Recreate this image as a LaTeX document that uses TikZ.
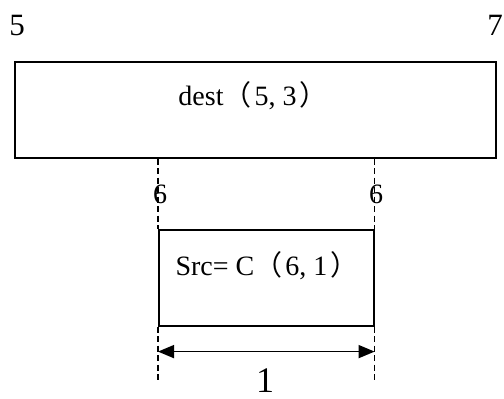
\documentclass[tikz,border=0pt]{standalone}
\usepackage{fontspec}
\setmainfont{Liberation Serif}
\newfontfamily\cjk{Noto Sans CJK SC}
\usetikzlibrary{arrows.meta}
\tikzset{
  box/.style={draw, line width=1.6pt, rectangle, inner sep=0pt, anchor=north west},
  guide/.style={line width=1.4pt, dash pattern=on 6pt off 3.5pt},
  lbl/.style={inner sep=0pt, anchor=base, font=\fontsize{28}{32}\selectfont},
  dim/.style={line width=1.6pt, {Triangle[length=16pt,width=13pt]}-{Triangle[length=16pt,width=13pt]}}
}
\newcommand{\lpar}{{\cjk （}}
\newcommand{\rpar}{{\cjk ）}}
\begin{document}
\begin{tikzpicture}[x=1pt,y=-1pt]
\useasboundingbox (0,0) rectangle (504,399);
% boxes
\node[box, minimum width=481pt, minimum height=96pt] (dest) at (14,61) {};
\node[box, minimum width=215pt, minimum height=96pt] (src) at (158,229) {};
% texts
\node[lbl] (desttxt) at (253,105) {dest\lpar\kern3pt 5, 3\kern3pt\rpar};
\node[lbl] (srctxt) at (267,275) {Src= C\lpar\kern3pt 6, 1\kern3pt\rpar};
\node[lbl, font=\fontsize{31}{34}\selectfont] (five) at (17,35) {5};
\node[lbl, font=\fontsize{31}{34}\selectfont] (seven) at (495,35) {7};
% guide coordinates
\coordinate (gla) at (dest.south -| src.south west);
\coordinate (gra) at (dest.south -| src.south east);
\coordinate (glb) at ([yshift=-56pt]src.south west);
\coordinate (grb) at ([yshift=-56pt]src.south east);
\draw[guide] (gla) -- (src.north west);
\draw[guide] (gra) -- (src.north east);
\draw[guide] (src.south west) -- (glb);
\draw[guide] (src.south east) -- (grb);
\node[lbl] (sixl) at (160,203) {6};
\node[lbl] (sixr) at (376,203) {6};
% dimension
\coordinate (dl) at ([yshift=-25pt]src.south west);
\coordinate (dr) at ([yshift=-25pt]src.south east);
\draw[dim] (dl) -- (dr);
\node[lbl, font=\fontsize{36}{40}\selectfont] (one) at (265,392) {1};
\end{tikzpicture}
\end{document}
